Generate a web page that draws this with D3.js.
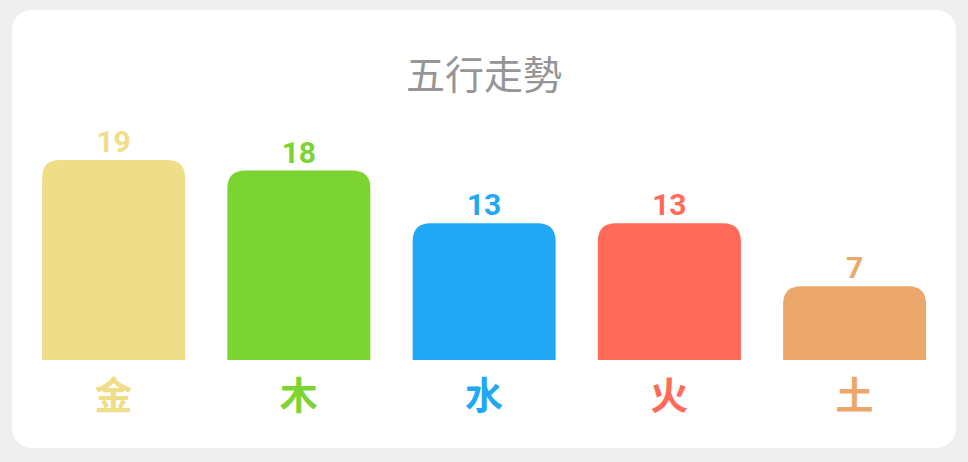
<!DOCTYPE html>
<html>
<head>
<meta charset="utf-8">
<script src="https://cdn.jsdelivr.net/npm/d3@7"></script>
<style>
  html, body { margin: 0; padding: 0; background: #efefef; }
  svg { display: block; }
</style>
</head>
<body>
<svg id="chart" width="968" height="462"></svg>
<script>
// data
var elements = ["金", "木", "水", "火", "土"];
var counts = [19, 18, 13, 13, 7];
var colours = ["#efdd87", "#7bd431", "#21a8f5", "#ff6b58", "#eba86a"];
var title = "五行走勢";

var svg = d3.select("svg#chart"),
    card = {x: 12, y: 10, w: 944, h: 438},
    baseline = 360,
    radius = 18;

svg.append("rect")
    .attr("x", card.x).attr("y", card.y)
    .attr("width", card.w).attr("height", card.h)
    .attr("rx", 20).attr("ry", 20)
    .attr("fill", "#ffffff");

svg.append("text")
    .attr("x", card.x + card.w / 2)
    .attr("y", 72)
    .attr("text-anchor", "middle")
    .attr("dominant-baseline", "central")
    .style("font-family", "'Noto Sans CJK TC', 'Noto Sans CJK SC', sans-serif")
    .style("font-size", "39px")
    .attr("fill", "#959595")
    .text(title);

// scales
var x = d3.scaleBand()
    .domain(elements)
    .range([21, 947.25])
    .paddingInner(0.228)
    .paddingOuter(0.114);

var y = d3.scaleLinear()
    .domain([0, 19])
    .range([baseline, 160]);

// bar with rounded top corners only
function barPath(d, i) {
    var x0 = x(d), w = x.bandwidth(), y0 = y(counts[i]), r = Math.min(radius, baseline - y0);
    return "M" + x0 + "," + baseline +
        "V" + (y0 + r) +
        "Q" + x0 + "," + y0 + " " + (x0 + r) + "," + y0 +
        "H" + (x0 + w - r) +
        "Q" + (x0 + w) + "," + y0 + " " + (x0 + w) + "," + (y0 + r) +
        "V" + baseline + "Z";
}

var g = svg.append("g").attr("class", "bars");

g.selectAll("path")
    .data(elements)
    .enter().append("path")
    .attr("d", barPath)
    .attr("fill", function (d, i) { return colours[i]; });

g.selectAll("text.value")
    .data(elements)
    .enter().append("text")
    .attr("class", "value")
    .attr("x", function (d) { return x(d) + x.bandwidth() / 2; })
    .attr("y", function (d, i) { return y(counts[i]) - 8; })
    .attr("text-anchor", "middle")
    .style("font-family", "Roboto, sans-serif")
    .style("font-weight", "bold")
    .style("font-size", "30px")
    .attr("fill", function (d, i) { return colours[i]; })
    .text(function (d, i) { return counts[i]; });

g.selectAll("text.label")
    .data(elements)
    .enter().append("text")
    .attr("class", "label")
    .attr("x", function (d) { return x(d) + x.bandwidth() / 2; })
    .attr("y", 392)
    .attr("text-anchor", "middle")
    .attr("dominant-baseline", "central")
    .style("font-family", "'Noto Sans CJK TC', 'Noto Sans CJK SC', sans-serif")
    .style("font-weight", "bold")
    .style("font-size", "38px")
    .attr("fill", function (d, i) { return colours[i]; })
    .text(function (d) { return d; });
</script>
</body>
</html>
